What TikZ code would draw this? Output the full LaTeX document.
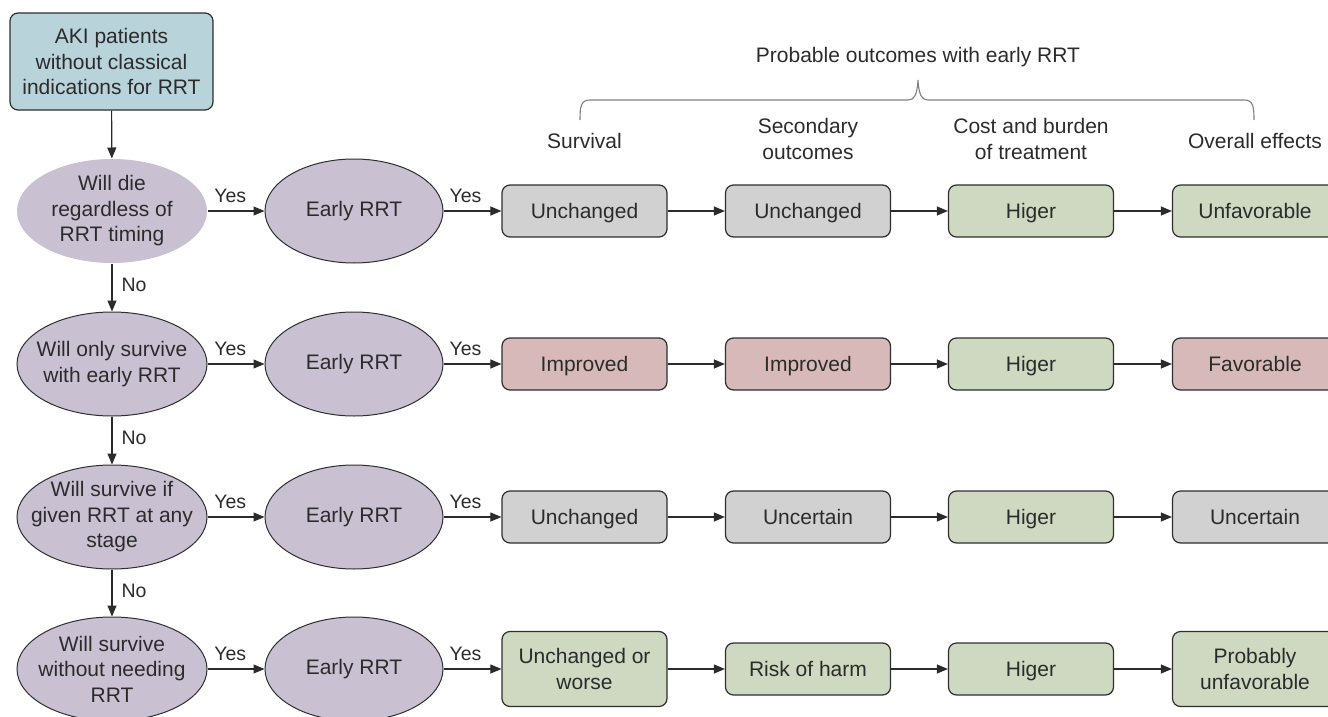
\documentclass[tikz,border=0pt]{standalone}
\usepackage{fontspec}
\setmainfont{Liberation Sans}
\usetikzlibrary{shapes.geometric,arrows.meta,positioning}
\definecolor{txt}{HTML}{2B2B2B}
\definecolor{topfill}{HTML}{B9D3DA}
\definecolor{ellfill}{HTML}{C9C1D2}
\definecolor{greyfill}{HTML}{D1D1D1}
\definecolor{greenfill}{HTML}{CFD8C0}
\definecolor{pinkfill}{HTML}{D8B9B9}
\definecolor{edge}{HTML}{2E2E2E}
\definecolor{bracec}{HTML}{808080}
\tikzset{
  every node/.style={text=txt, font=\fontsize{21}{25.5}\selectfont, align=center, inner sep=0pt},
  topbox/.style={draw=edge, line width=1.2pt, fill=topfill, rounded corners=8pt, minimum width=203pt, minimum height=97pt},
  decell/.style={ellipse, fill=ellfill, draw=edge, line width=1pt, minimum width=190pt, minimum height=104pt},
  earlyell/.style={ellipse, fill=ellfill, draw=edge, line width=1pt, minimum width=178pt, minimum height=104pt},
  outbox/.style={draw=edge, line width=1.2pt, rounded corners=8pt, minimum width=165pt, minimum height=52pt},
  onebox/.style={outbox, text height=17.5pt, text depth=3pt},
  tallbox/.style={outbox, minimum height=75pt},
  gbox/.style={fill=greyfill},
  grbox/.style={fill=greenfill},
  pbox/.style={fill=pinkfill},
  conn/.style={draw=txt, line width=1.1pt, -{Triangle[length=11pt,width=9pt]}},
  lbl/.style={font=\fontsize{19.5}{22}\selectfont},
}
\begin{document}
\begin{tikzpicture}[x=1pt,y=-1pt]
\useasboundingbox (0,0) rectangle (1328,717);
% top node
\node[topbox] (top) at (111.5,61.5) {AKI patients\\without classical\\indications for RRT};
% decision ellipses (shape) and their texts
\node[decell, draw=none] (d1) at (112,211) {};
\node[decell] (d2) at (112,364) {};
\node[decell] (d3) at (112,517) {};
\node[decell] (d4) at (112,669) {};
\node (t1) at (d1) {Will die\\regardless of\\RRT timing};
\node (t2) at (d2) {Will only survive\\with early RRT};
\node (t3) at (d3) {Will survive if\\given RRT at any\\stage};
\node (t4) at (d4) {Will survive\\without needing\\RRT};
% early RRT ellipses
\foreach \r/\y in {1/211,2/364,3/517,4/669}{
  \node[earlyell] (e\r) at (354,\y) {Early RRT};
}
% outcome boxes
\node[onebox,gbox] (a1) at (584.5,211) {Unchanged};
\node[onebox,gbox] (b1) at (808,211) {Unchanged};
\node[onebox,grbox] (c1) at (1031,211) {Higer};
\node[onebox,grbox] (f1) at (1255,211) {Unfavorable};
\node[onebox,pbox] (a2) at (584.5,364) {Improved};
\node[onebox,pbox] (b2) at (808,364) {Improved};
\node[onebox,grbox] (c2) at (1031,364) {Higer};
\node[onebox,pbox] (f2) at (1255,364) {Favorable};
\node[onebox,gbox] (a3) at (584.5,517) {Unchanged};
\node[onebox,gbox] (b3) at (808,517) {Uncertain};
\node[onebox,grbox] (c3) at (1031,517) {Higer};
\node[onebox,gbox] (f3) at (1255,517) {Uncertain};
\node[tallbox,grbox] (a4) at (584.5,669) {Unchanged or\\worse};
\node[onebox,grbox] (b4) at (808,669) {Risk of harm};
\node[onebox,grbox] (c4) at (1031,669) {Higer};
\node[tallbox,grbox] (f4) at (1255,669) {Probably\\unfavorable};
% headers
\node (hsurv) at (584.5,141) {Survival};
\node (hsec) at (808,139) {Secondary\\outcomes};
\node (hcost) at (1031,139) {Cost and burden\\of treatment};
\node (hover) at (1255,141) {Overall effects};
\node (htitle) at (918,57) {Probable outcomes with early RRT};
% brace
\coordinate (bl) at (580,120);
\coordinate (bm) at (918,80);
\coordinate (br) at (1254,120);
\draw[bracec, line width=1.1pt]
  (bl) .. controls (580,106) and (581,100) .. (590,100) -- (908,100)
  .. controls (914,100) and (917,96) .. (bm)
  .. controls (919,96) and (922,100) .. (928,100) -- (1244,100)
  .. controls (1253,100) and (1254,106) .. (br);
% vertical connectors
\draw[conn] (top) -- (d1);
\draw[conn] (d1) -- node[lbl, right=9pt, pos=0.45] {No} (d2);
\draw[conn] (d2) -- node[lbl, right=9pt, pos=0.45] {No} (d3);
\draw[conn] (d3) -- node[lbl, right=9pt, pos=0.45] {No} (d4);
% horizontal connectors
\foreach \r in {1,2,3,4}{
  \draw[conn] (d\r) -- node[lbl, above=8pt, pos=0.4] {Yes} (e\r);
  \draw[conn] (e\r) -- node[lbl, above=8pt, pos=0.38] {Yes} (a\r);
  \draw[conn] (a\r) -- (b\r);
  \draw[conn] (b\r) -- (c\r);
  \draw[conn] (c\r) -- (f\r);
}
\end{tikzpicture}
\end{document}
